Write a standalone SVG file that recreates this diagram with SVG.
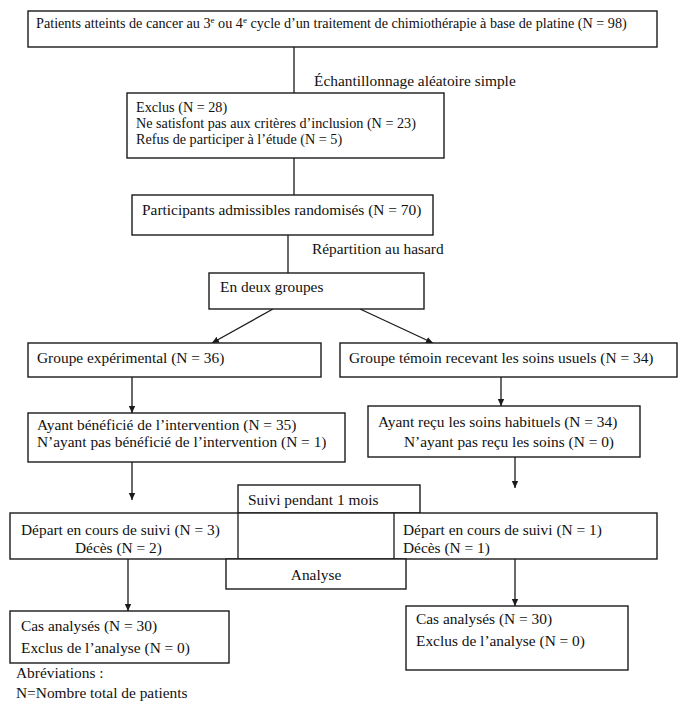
<svg xmlns="http://www.w3.org/2000/svg" width="688" height="710" viewBox="0 0 688 710">
<style>
.box{fill:#fff;stroke:#1a1a1a;stroke-width:1.4}
.t{font-family:"Liberation Serif","Times New Roman",serif;font-size:15.4px;fill:#111}
.s{font-size:14.2px}
.ln{stroke:#1a1a1a;stroke-width:1.3;fill:none}
.sup{font-size:9px}
</style>
<defs>
<marker id="ah" markerWidth="8" markerHeight="8" refX="7" refY="4" orient="auto" markerUnits="userSpaceOnUse">
<path d="M0,0.8 L7,4 L0,7.2 Z" fill="#1a1a1a"/>
</marker>
</defs>
<rect width="688" height="710" fill="#fff"/>
<g id="connectors">
<line class="ln" x1="294" y1="47" x2="294" y2="93"/>
<line class="ln" x1="294" y1="158" x2="294" y2="195"/>
<line class="ln" x1="288" y1="235" x2="288" y2="273"/>
<line class="ln" x1="273" y1="309" x2="212" y2="343" marker-end="url(#ah)"/>
<line class="ln" x1="360" y1="309" x2="433" y2="343" marker-end="url(#ah)"/>
<line class="ln" x1="132" y1="377" x2="132" y2="413" marker-end="url(#ah)"/>
<line class="ln" x1="501" y1="377" x2="501" y2="406" marker-end="url(#ah)"/>
<line class="ln" x1="132" y1="462" x2="132" y2="500" marker-end="url(#ah)"/>
<line class="ln" x1="515" y1="457" x2="515" y2="488" marker-end="url(#ah)"/>
<line class="ln" x1="128" y1="559" x2="128" y2="611" marker-end="url(#ah)"/>
<line class="ln" x1="515" y1="559" x2="515" y2="606" marker-end="url(#ah)"/>
</g>
<g id="n-top">
<rect class="box" x="28" y="11" width="629" height="36"/>
<text class="t s" x="36" y="28">Patients atteints de cancer au 3<tspan class="sup" dy="-5">e</tspan><tspan dy="5"> ou 4</tspan><tspan class="sup" dy="-5">e</tspan><tspan dy="5"> cycle d’un traitement de chimiothérapie à base de platine (N = 98)</tspan></text>
</g>
<g id="l-echant"><text class="t" x="314" y="86">Échantillonnage aléatoire simple</text></g>
<g id="n-exclus">
<rect class="box" x="127" y="93" width="317" height="65"/>
<text class="t s" x="136" y="112">Exclus (N = 28)</text>
<text class="t s" x="136" y="128">Ne satisfont pas aux critères d’inclusion (N = 23)</text>
<text class="t s" x="136" y="144">Refus de participer à l’étude (N = 5)</text>
</g>
<g id="n-particip">
<rect class="box" x="132" y="195" width="301" height="40"/>
<text class="t" x="142" y="215">Participants admissibles randomisés (N = 70)</text>
</g>
<g id="l-repart"><text class="t" x="312" y="254">Répartition au hasard</text></g>
<g id="n-deux">
<rect class="box" x="209" y="273" width="215" height="36"/>
<text class="t" x="220" y="292">En deux groupes</text>
</g>
<g id="n-exp">
<rect class="box" x="28" y="343" width="293" height="34"/>
<text class="t" x="37" y="363">Groupe expérimental (N = 36)</text>
</g>
<g id="n-temoin">
<rect class="box" x="340" y="343" width="337" height="34"/>
<text class="t" x="349" y="363">Groupe témoin recevant les soins usuels (N = 34)</text>
</g>
<g id="n-benef">
<rect class="box" x="28" y="413" width="317" height="49"/>
<text class="t" x="37" y="430">Ayant bénéficié de l’intervention (N = 35)</text>
<text class="t" x="37" y="447">N’ayant pas bénéficié de l’intervention (N = 1)</text>
</g>
<g id="n-recu">
<rect class="box" x="368" y="406" width="272" height="51"/>
<text class="t" x="378" y="427">Ayant reçu les soins habituels (N = 34)</text>
<text class="t" x="404" y="447">N’ayant pas reçu les soins (N = 0)</text>
</g>
<g id="n-suivi">
<rect class="box" x="238" y="485" width="182" height="28"/>
<text class="t" x="248" y="505">Suivi pendant 1 mois</text>
</g>
<g id="n-depart">
<rect class="box" x="10" y="513" width="647" height="46"/>
<line class="ln" x1="238" y1="513" x2="238" y2="559"/>
<line class="ln" x1="394" y1="513" x2="394" y2="559"/>
<text class="t" x="21" y="535">Départ en cours de suivi (N = 3)</text>
<text class="t" x="75" y="553">Décès (N = 2)</text>
<text class="t" x="403" y="535">Départ en cours de suivi (N = 1)</text>
<text class="t" x="403" y="553">Décès (N = 1)</text>
</g>
<g id="n-analyse">
<rect class="box" x="226" y="559" width="180" height="30"/>
<text class="t" x="316" y="580" text-anchor="middle">Analyse</text>
</g>
<g id="n-cas-left">
<rect class="box" x="10" y="611" width="219" height="52"/>
<text class="t" x="21" y="631">Cas analysés (N = 30)</text>
<text class="t" x="21" y="653">Exclus de l’analyse (N = 0)</text>
</g>
<g id="n-cas-right">
<rect class="box" x="406" y="606" width="222" height="64"/>
<text class="t" x="416" y="624">Cas analysés (N = 30)</text>
<text class="t" x="416" y="646">Exclus de l’analyse (N = 0)</text>
</g>
<g id="legend">
<text class="t" x="16" y="678">Abréviations :</text>
<text class="t" x="16" y="698">N=Nombre total de patients</text>
</g>
</svg>
